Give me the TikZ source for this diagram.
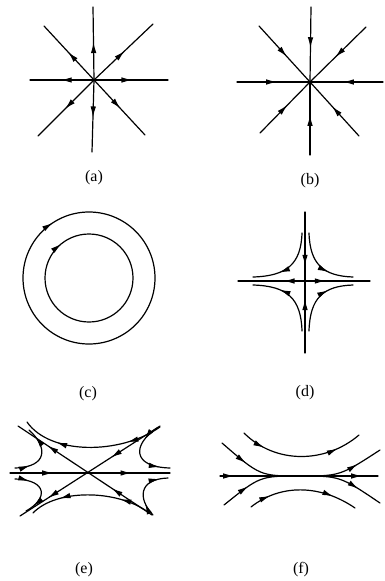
\documentclass[tikz,border=0pt]{standalone}
\usepackage{fontspec}
\setmainfont{Liberation Serif}
\usepackage{tikz}
\usetikzlibrary{arrows.meta,decorations.markings}

\tikzset{
  flow/.style={line width=1.2pt, line cap=round},
  arrowat/.style={postaction={decorate, decoration={markings,
      mark=at position #1 with {\arrow{Latex[length=11pt,width=5.5pt]}}}}},
  caption/.style={font=\fontsize{16}{18}\selectfont, inner sep=0pt}
}

\begin{document}
\begin{tikzpicture}[x=1pt, y=-1pt]
  % page frame (pixel grid of the reference, y downwards)
  \useasboundingbox (0,0) rectangle (385,581);
  % (a) source: eight rays, flow outward
  \begin{scope}[shift={(94,80)}]
    \coordinate (oa) at (0,0);
    \foreach \ex/\ey in {74/0, -64/0, -1/-73, -2/72, -50/-54, 51/55, 59/-56, -56/56}
      \draw[flow, arrowat=0.52] (oa) -- (\ex,\ey);
  \end{scope}
  \node[caption] (la) at (94,178) {(a)};
  % (b) sink: eight rays, flow inward
  \begin{scope}[shift={(310,82)}]
    \coordinate (ob) at (0,0);
    \foreach \ex/\ey in {73/0, -73/0, 1/-75, 0/73, -51/-56, 49/54, 56/-55, -50/51}
      \draw[flow, arrowat=0.55] (\ex,\ey) -- (ob);
  \end{scope}
  \node[caption] (lb) at (310,181) {(b)};
  % (c) centre: two closed orbits, clockwise
  \begin{scope}[shift={(89,278)}]
    \draw[flow, arrowat=0.158] (-66,0) arc[start angle=-180, end angle=180, radius=66];
    \draw[flow, arrowat=0.142] (-44,0) arc[start angle=-180, end angle=180, radius=44];
  \end{scope}
  \node[caption] (lc) at (88,394) {(c)};
  % (d) saddle with curves hugging the axes
  \begin{scope}[shift={(305,281)}]
    \coordinate (od) at (0,0);
    \draw[flow, arrowat=0.32] (od) -- (-67,0);
    \draw[flow, arrowat=0.32] (od) -- (65,0);
    \draw[flow, arrowat=0.78] (0,-69) -- (od);
    \draw[flow, arrowat=0.75] (0,72) -- (od);
    \draw[flow, arrowat=0.65] (-3,-48) .. controls (-4,-17) and (-18,-5) .. (-52,-4);
    \draw[flow, arrowat=0.65] (4,-48) .. controls (5,-17) and (18,-5) .. (48,-4);
    \draw[flow, arrowat=0.65] (-3,50) .. controls (-4,17) and (-18,5) .. (-52,4);
    \draw[flow, arrowat=0.65] (4,50) .. controls (5,17) and (18,5) .. (48,4);
  \end{scope}
  \node[caption] (ld) at (305,393) {(d)};
  % (e) three separatrices, six hyperbolic sectors
  \begin{scope}[shift={(86,473)}]
    \draw[flow, arrowat=0.27, arrowat=0.76] (-76,0) -- (84,0);
    \draw[flow, arrowat=0.35, arrowat=0.8] (74,-47) -- (-66,43);
    \draw[flow, arrowat=0.3, arrowat=0.78] (66,42) -- (-68,-47);
    \draw[flow, arrowat=0.25, arrowat=0.75] (74,-46) .. controls (34,-18) and (-36,-18) .. (-59,-51);
    \draw[flow, arrowat=0.25, arrowat=0.75] (62,39) .. controls (30,16) and (-30,16) .. (-53,40);
    \draw[flow, arrowat=0.25, arrowat=0.85] (71,-45) .. controls (46,-28) and (46,-6) .. (84,-5);
    \draw[flow, arrowat=0.25, arrowat=0.85] (67,42) .. controls (52,26) and (52,6) .. (82,5);
    \draw[flow, arrowat=0.25, arrowat=0.85] (-71,-5) .. controls (-38,-6) and (-38,-26) .. (-57,-43);
    \draw[flow, arrowat=0.25, arrowat=0.85] (-71,6) .. controls (-38,7) and (-38,26) .. (-60,38);
  \end{scope}
  \node[caption] (le) at (84,570) {(e)};
  % (f) curves touching one trajectory, flow to the right
  \begin{scope}[shift={(300,476)}]
    \draw[flow, arrowat=0.09, arrowat=0.9] (-80,0) -- (78,0);
    \draw[flow, arrowat=0.2, arrowat=0.8] (-56,-43) .. controls (-25,-12) and (25,-12) .. (59,-41);
    \draw[flow, arrowat=0.18, arrowat=0.85] (-78,-33) .. controls (-40,0) .. (0,0) .. controls (40,0) .. (80,-26);
    \draw[flow, arrowat=0.18, arrowat=0.85] (-76,29) .. controls (-40,0) .. (0,0) .. controls (40,0) .. (80,27);
    \draw[flow, arrowat=0.2, arrowat=0.78] (-49,31) .. controls (-20,8) and (20,8) .. (55,32);
  \end{scope}
  \node[caption] (lf) at (301,570) {(f)};
\end{tikzpicture}
\end{document}
